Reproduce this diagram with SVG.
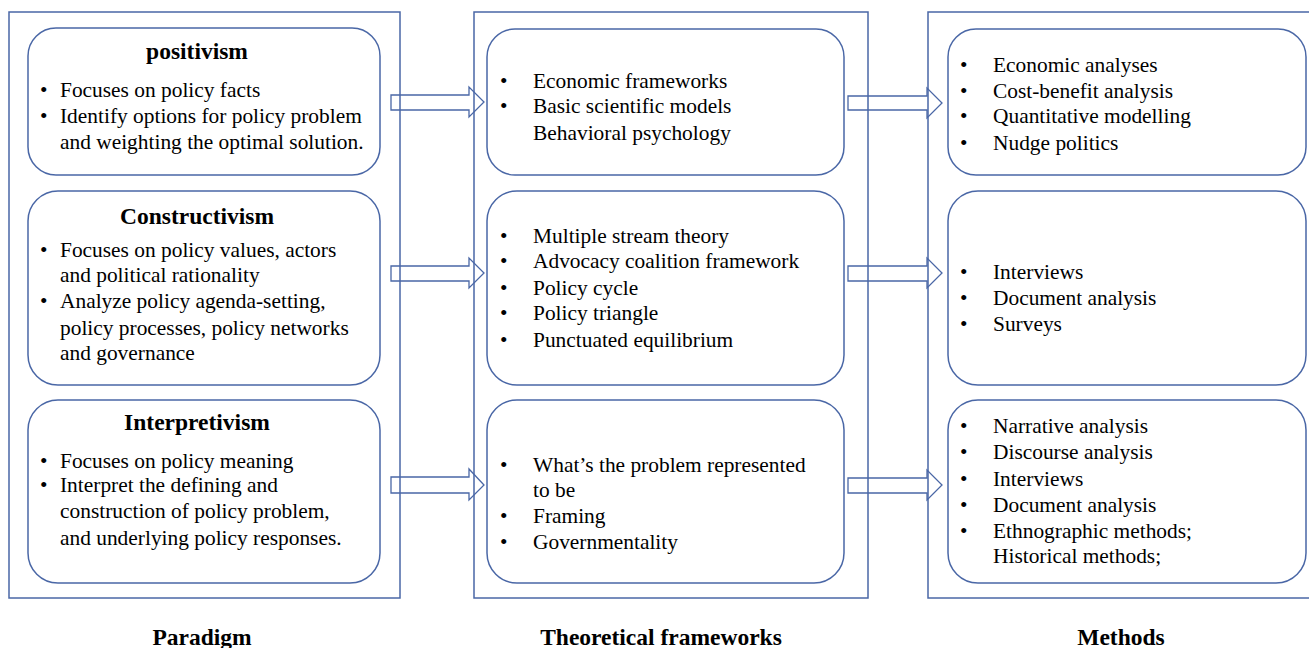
<svg xmlns="http://www.w3.org/2000/svg" width="1309" height="648" viewBox="0 0 1309 648">
<style>
.frame{fill:none;stroke:#4a67a6;stroke-width:1.5}
.box{fill:#fff;stroke:#4a67a6;stroke-width:1.5}
.arrow{fill:none;stroke:#4a67a6;stroke-width:1.3}
text{font-family:"Liberation Serif","Times New Roman",serif;fill:#000}
.t{font-size:21.4px}
.h{font-size:23.5px;font-weight:bold;text-anchor:middle}
</style>
<rect width="1309" height="648" fill="#fff"/>
<g id="frames">
<rect class="frame" x="9" y="12" width="391" height="586"/>
<rect class="frame" x="474" y="12" width="394" height="586"/>
<rect class="frame" x="928" y="12" width="400" height="586"/>
</g>
<g id="connectors">
<polygon class="arrow" points="391,95 469,95 469,87 484,102 469,117 469,110 391,110"/>
<polygon class="arrow" points="391,266 469,266 469,258 484,273 469,288 469,281 391,281"/>
<polygon class="arrow" points="391,477 469,477 469,469 484,485 469,500 469,493 391,493"/>
<polygon class="arrow" points="848,96 927,96 927,88 942,103 927,118 927,110 848,110"/>
<polygon class="arrow" points="848,266 927,266 927,258 942,273 927,288 927,281 848,281"/>
<polygon class="arrow" points="848,478 927,478 927,470 942,485 927,500 927,493 848,493"/>
</g>
<g id="positivism">
<rect class="box" x="28" y="28" width="352" height="147" rx="28"/>
<text class="h" x="197" y="59">positivism</text>
<text class="t" x="40" y="97">•</text><text class="t" x="60" y="97">Focuses on policy  facts</text>
<text class="t" x="40" y="123">•</text><text class="t" x="60" y="123">Identify  options for policy problem</text>
<text class="t" x="60" y="149">and weighting  the optimal  solution.</text>
</g>
<g id="constructivism">
<rect class="box" x="28" y="191" width="352" height="194" rx="30"/>
<text class="h" x="197" y="224">Constructivism</text>
<text class="t" x="40" y="257">•</text><text class="t" x="60" y="257">Focuses on  policy values, actors</text>
<text class="t" x="60" y="282">and political rationality</text>
<text class="t" x="40" y="308">•</text><text class="t" x="60" y="308">Analyze  policy agenda-setting,</text>
<text class="t" x="60" y="335">policy processes, policy networks</text>
<text class="t" x="60" y="360">and governance</text>
</g>
<g id="interpretivism">
<rect class="box" x="28" y="400" width="352" height="183" rx="30"/>
<text class="h" x="197" y="430">Interpretivism</text>
<text class="t" x="40" y="468">•</text><text class="t" x="60" y="468">Focuses on policy meaning</text>
<text class="t" x="40" y="492">•</text><text class="t" x="60" y="492">Interpret the defining  and</text>
<text class="t" x="60" y="518">construction of policy problem,</text>
<text class="t" x="60" y="545">and underlying  policy responses.</text>
</g>
<g id="tf1">
<rect class="box" x="487" y="29" width="357" height="146" rx="28"/>
<text class="t" x="500" y="88">•</text><text class="t" x="533" y="88">Economic frameworks</text>
<text class="t" x="500" y="113">•</text><text class="t" x="533" y="113">Basic scientific  models</text>
<text class="t" x="533" y="140">Behavioral  psychology</text>
</g>
<g id="tf2">
<rect class="box" x="487" y="191" width="357" height="194" rx="30"/>
<text class="t" x="500" y="243">•</text><text class="t" x="533" y="243">Multiple  stream theory</text>
<text class="t" x="500" y="268">•</text><text class="t" x="533" y="268">Advocacy coalition  framework</text>
<text class="t" x="500" y="295">•</text><text class="t" x="533" y="295">Policy cycle</text>
<text class="t" x="500" y="320">•</text><text class="t" x="533" y="320">Policy triangle</text>
<text class="t" x="500" y="347">•</text><text class="t" x="533" y="347">Punctuated equilibrium</text>
</g>
<g id="tf3">
<rect class="box" x="487" y="400" width="357" height="183" rx="30"/>
<text class="t" x="500" y="472">•</text><text class="t" x="533" y="472">What’s the problem represented</text>
<text class="t" x="533" y="497">to be</text>
<text class="t" x="500" y="523">•</text><text class="t" x="533" y="523">Framing</text>
<text class="t" x="500" y="549">•</text><text class="t" x="533" y="549">Governmentality</text>
</g>
<g id="m1">
<rect class="box" x="948" y="29" width="358" height="146" rx="28"/>
<text class="t" x="960" y="72">•</text><text class="t" x="993" y="72">Economic analyses</text>
<text class="t" x="960" y="98">•</text><text class="t" x="993" y="98">Cost-benefit analysis</text>
<text class="t" x="960" y="123">•</text><text class="t" x="993" y="123">Quantitative  modelling</text>
<text class="t" x="960" y="150">•</text><text class="t" x="993" y="150">Nudge politics</text>
</g>
<g id="m2">
<rect class="box" x="948" y="191" width="358" height="194" rx="30"/>
<text class="t" x="960" y="279">•</text><text class="t" x="993" y="279">Interviews</text>
<text class="t" x="960" y="305">•</text><text class="t" x="993" y="305">Document analysis</text>
<text class="t" x="960" y="331">•</text><text class="t" x="993" y="331">Surveys</text>
</g>
<g id="m3">
<rect class="box" x="948" y="400" width="358" height="183" rx="30"/>
<text class="t" x="960" y="433">•</text><text class="t" x="993" y="433">Narrative  analysis</text>
<text class="t" x="960" y="459">•</text><text class="t" x="993" y="459">Discourse analysis</text>
<text class="t" x="960" y="486">•</text><text class="t" x="993" y="486">Interviews</text>
<text class="t" x="960" y="512">•</text><text class="t" x="993" y="512">Document analysis</text>
<text class="t" x="960" y="538">•</text><text class="t" x="993" y="538">Ethnographic  methods;</text>
<text class="t" x="993" y="563">Historical  methods;</text>
</g>
<g id="labels">
<text class="h" x="202" y="645">Paradigm</text>
<text class="h" x="661" y="645">Theoretical  frameworks</text>
<text class="h" x="1121" y="645">Methods</text>
</g>
</svg>
